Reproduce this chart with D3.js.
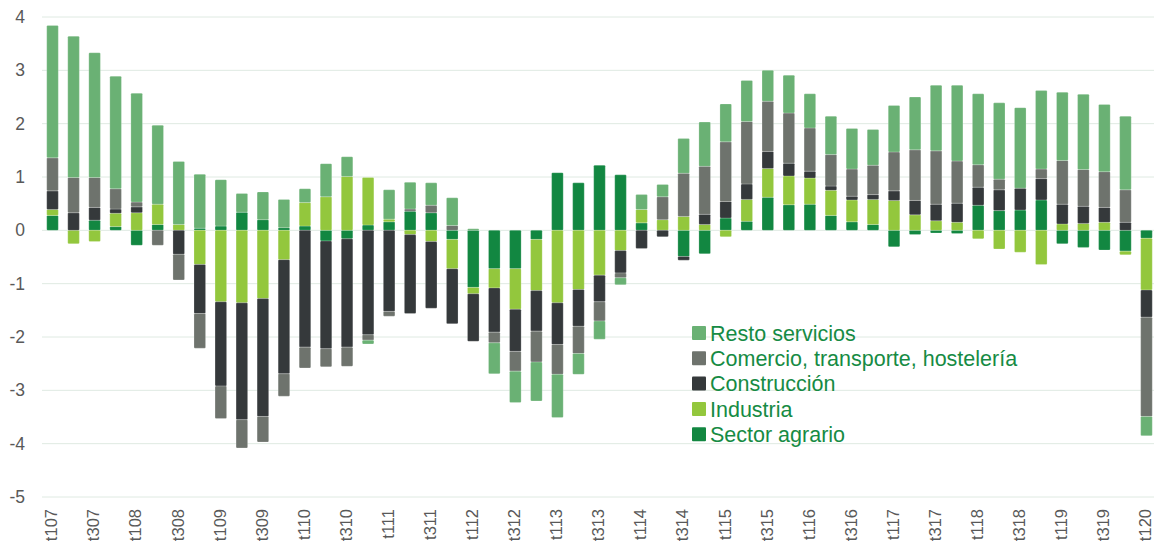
<!DOCTYPE html>
<html>
<head>
<meta charset="utf-8">
<script src="https://cdn.jsdelivr.net/npm/d3@7"></script>
<style>
  body { margin: 0; background: #fff; }
  svg text { font-family: "Liberation Sans", Arial, sans-serif; }
</style>
</head>
<body>
<div id="chart"></div>
<script>
// quarters t107 .. t120
const periods = [
  't107','t207','t307','t407','t108','t208','t308','t408','t109','t209','t309','t409',
  't110','t210','t310','t410','t111','t211','t311','t411','t112','t212','t312','t412',
  't113','t213','t313','t413','t114','t214','t314','t414','t115','t215','t315','t415',
  't116','t216','t316','t416','t117','t217','t317','t417','t118','t218','t318','t418',
  't119','t219','t319','t419','t120'
];

const sectorAgrario = [
  0.28, 0, 0.19, 0.07, -0.28, 0.11, 0, 0.04, 0.08, 0.34, 0.2, 0.05,
  0.08, -0.2, -0.16, 0.1, 0.16, 0.36, 0.33, -0.17, -1.07, -0.72, -0.72, -0.17,
  1.08, 0.89, 1.22, 1.04, 0.14, 0, -0.49, -0.44, 0.23, 0.17, 0.62, 0.48,
  0.49, 0.28, 0.16, 0.11, -0.31, -0.08, -0.05, -0.06, 0.47, 0.37, 0.38, 0.57,
  -0.25, -0.32, -0.37, -0.39, -0.15
];
const industria = [
  0.11, -0.25, -0.21, 0.25, 0.33, 0.38, 0.11, -0.64, -1.34, -1.36, -1.28, -0.55,
  0.44, 0.63, 1.01, 0.89, 0.05, -0.08, -0.21, -0.55, -0.12, -0.36, -0.76, -0.96,
  -1.36, -1.11, -0.84, -0.38, 0.25, 0.2, 0.26, 0.11, -0.12, 0.41, 0.54, 0.54,
  0.49, 0.47, 0.41, 0.47, 0.56, 0.29, 0.18, 0.15, -0.16, -0.35, -0.41, -0.64,
  0.12, 0.13, 0.15, -0.07, -0.97
];
const construccion = [
  0.35, 0.33, 0.24, 0.08, 0.11, 0, -0.45, -0.92, -1.58, -2.19, -2.21, -2.14,
  -2.19, -2.02, -2.03, -1.96, -1.52, -1.48, -1.25, -1.03, -0.89, -0.83, -0.79, -0.76,
  -0.78, -0.69, -0.5, -0.42, -0.34, -0.12, -0.07, 0.19, 0.31, 0.29, 0.32, 0.24,
  0.13, 0.08, 0.07, 0.09, 0.18, 0.27, 0.31, 0.36, 0.34, 0.39, 0.41, 0.4,
  0.37, 0.32, 0.28, 0.15, -0.51
];
const comercio = [
  0.62, 0.66, 0.56, 0.38, 0.09, -0.28, -0.48, -0.65, -0.61, -0.53, -0.48, -0.42,
  -0.39, -0.34, -0.36, -0.1, -0.09, 0.04, 0.14, 0.09, 0, -0.2, -0.37, -0.58,
  -0.56, -0.51, -0.36, -0.09, 0, 0.43, 0.81, 0.9, 1.12, 1.17, 0.94, 0.94,
  0.81, 0.59, 0.51, 0.55, 0.73, 0.95, 1.0, 0.79, 0.42, 0.2, 0, 0.18,
  0.82, 0.69, 0.67, 0.61, -1.86
];
const restoServicios = [
  2.48, 2.65, 2.34, 2.11, 2.04, 1.48, 1.18, 1.01, 0.87, 0.35, 0.52, 0.53,
  0.26, 0.62, 0.37, -0.07, 0.55, 0.5, 0.42, 0.52, 0.03, -0.58, -0.59, -0.73,
  -0.81, -0.39, -0.34, -0.13, 0.28, 0.23, 0.65, 0.83, 0.71, 0.77, 0.58, 0.71,
  0.64, 0.72, 0.76, 0.67, 0.87, 0.99, 1.23, 1.42, 1.33, 1.43, 1.51, 1.47,
  1.28, 1.41, 1.26, 1.38, -0.36
];

const yTicks = [-5, -4, -3, -2, -1, 0, 1, 2, 3, 4];

// stacking order (bottom -> top)
const series = [
  { key: 'agrario', name: 'Sector agrario', values: sectorAgrario, color: '#128741' },
  { key: 'industria', name: 'Industria', values: industria, color: '#93c73d' },
  { key: 'construccion', name: 'Construcción', values: construccion, color: '#35393b' },
  { key: 'comercio', name: 'Comercio, transporte, hostelería', values: comercio, color: '#6e736d' },
  { key: 'resto', name: 'Resto servicios', values: restoServicios, color: '#6ab174' }
];

const width = 1154, height = 550;

const rows = periods.map((p, i) => {
  const r = { period: p };
  series.forEach(s => { r[s.key] = s.values[i]; });
  return r;
});

const svg = d3.select('#chart').append('svg')
  .attr('width', width)
  .attr('height', height);

const x = d3.scaleBand()
  .domain(periods)
  .range([42, 1157])
  .paddingInner(0.45)
  .paddingOuter(0.225);

const y = d3.scaleLinear()
  .domain([-5, 4])
  .range([497, 17]);

// grid
svg.append('g')
  .selectAll('line')
  .data(yTicks)
  .enter()
  .append('line')
  .attr('x1', 42)
  .attr('x2', width)
  .attr('y1', d => y(d))
  .attr('y2', d => y(d))
  .attr('stroke', '#dfeae2')
  .attr('stroke-width', 1);

// y labels (plain hyphen for negatives)
const yAxis = d3.axisLeft(y).tickValues(yTicks).tickSize(0).tickPadding(0)
  .tickFormat(d => String(d));
const gy = svg.append('g')
  .attr('transform', 'translate(25,0)')
  .call(yAxis);
gy.select('.domain').remove();
gy.selectAll('text')
  .style('font-size', '17.5px')
  .attr('fill', '#595959');

// x labels, every second quarter
const xAxis = d3.axisBottom(x)
  .tickValues(periods.filter((d, i) => i % 2 === 0))
  .tickSize(0);
const gx = svg.append('g')
  .attr('transform', 'translate(0,509)')
  .call(xAxis);
gx.select('.domain').remove();
gx.selectAll('text')
  .attr('transform', 'rotate(-90)')
  .attr('x', 0)
  .attr('y', -1)
  .attr('dy', '0.35em')
  .attr('text-anchor', 'end')
  .style('font-size', '16.5px')
  .attr('fill', '#595959');

// stacked bars
const stack = d3.stack()
  .keys(series.map(s => s.key))
  .offset(d3.stackOffsetDiverging);
const stacked = stack(rows);

svg.append('g')
  .selectAll('g')
  .data(stacked)
  .enter()
  .append('g')
  .attr('fill', (d, i) => series[i].color)
  .selectAll('rect')
  .data(d => d.filter(v => Math.abs(v[1] - v[0]) > 0.0001))
  .enter()
  .append('rect')
  .attr('x', d => x(d.data.period))
  .attr('width', x.bandwidth())
  .attr('y', d => y(Math.max(d[0], d[1])))
  .attr('height', d => Math.abs(y(d[0]) - y(d[1])))
  .attr('rx', 1)
  .attr('stroke', '#ffffff')
  .attr('stroke-opacity', 0.35)
  .attr('stroke-width', 0.6);

// legend (top entry = top of the stack)
const legend = svg.append('g')
  .attr('transform', 'translate(692,333)');

const legendItems = legend.selectAll('g')
  .data(series.slice().reverse())
  .enter()
  .append('g')
  .attr('transform', (d, i) => `translate(0,${i * 25.3})`);

legendItems.append('rect')
  .attr('x', 0)
  .attr('y', -7)
  .attr('width', 14)
  .attr('height', 14)
  .attr('rx', 1)
  .attr('fill', d => d.color);

legendItems.append('text')
  .attr('x', 18)
  .attr('y', 0)
  .attr('dy', '0.36em')
  .style('font-size', '21.5px')
  .attr('fill', '#168b44')
  .text(d => d.name);
</script>
</body>
</html>
